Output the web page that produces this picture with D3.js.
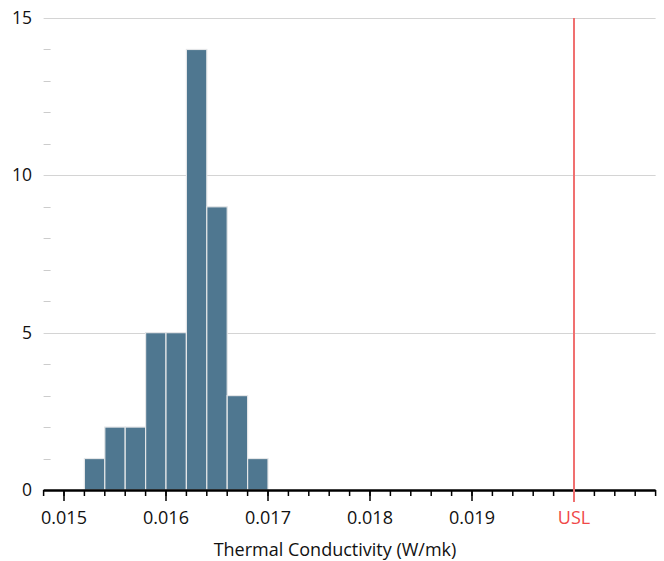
<!DOCTYPE html>
<html><head><meta charset="utf-8">
<script src="https://cdn.jsdelivr.net/npm/d3@7"></script>
<style>
html,body{margin:0;padding:0;background:#fff;}
svg{display:block;font-family:"Open Sans",sans-serif;}
</style></head>
<body><svg id="c" width="664" height="561"></svg>
<script>
const binStarts = [0.0152, 0.0154, 0.0156, 0.0158, 0.0160, 0.0162, 0.0164, 0.0166, 0.0168];
const binWidth = 0.0002;
const counts = [1, 2, 2, 5, 5, 14, 9, 3, 1];
const xTickValues = [0.015, 0.016, 0.017, 0.018, 0.019, 0.020];
const xTickLabels = ["0.015", "0.016", "0.017", "0.018", "0.019", "USL"];
const yMajorTicks = [0, 5, 10, 15];
const uslValue = 0.020;
const xLabel = "Thermal Conductivity (W/mk)";

const svg = d3.select("#c");
const x = d3.scaleLinear().domain([0.0148, 0.0208]).range([43.6, 655.6]);
const y = d3.scaleLinear().domain([0, 15]).range([490, 18]);

// minor y ticks
const yMinor = d3.range(1, 15).filter(v => v % 5 !== 0);
svg.append("g").selectAll("line").data(yMinor).join("line")
  .attr("x1", x(0.0148)).attr("x2", x(0.0148) + 7)
  .attr("y1", d => Math.round(y(d)) + 0.5).attr("y2", d => Math.round(y(d)) + 0.5)
  .attr("stroke", "#cccccc").attr("stroke-width", 1);

// gridlines
svg.append("g").selectAll("line").data(yMajorTicks.filter(d => d > 0)).join("line")
  .attr("x1", x(0.0148)).attr("x2", x(0.0208))
  .attr("y1", d => Math.round(y(d)) + 0.5).attr("y2", d => Math.round(y(d)) + 0.5)
  .attr("stroke", "#d4d4d4").attr("stroke-width", 1);

// y labels
svg.append("g").selectAll("text").data(yMajorTicks).join("text")
  .attr("x", 32).attr("y", d => y(d)).attr("dy", "0.35em")
  .attr("text-anchor", "end").attr("font-size", 17.5).attr("fill", "#111")
  .text(d => d);

// bars
svg.append("g").selectAll("rect").data(counts).join("rect")
  .attr("x", (d, i) => x(binStarts[i]))
  .attr("width", (d, i) => x(binStarts[i] + binWidth) - x(binStarts[i]))
  .attr("y", d => y(d))
  .attr("height", d => y(0) - y(d))
  .attr("fill", "#4f7790").attr("stroke", "#e4e6e8").attr("stroke-width", 1.2);

// x axis minor ticks
const xMinor = d3.range(0, 31).map(i => +(0.0148 + i * 0.0002).toFixed(5));
svg.append("g").selectAll("line").data(xMinor).join("line")
  .attr("x1", d => x(d)).attr("x2", d => x(d))
  .attr("y1", 490).attr("y2", 496)
  .attr("stroke", "#000").attr("stroke-width", 1.5);

// major ticks
svg.append("g").selectAll("line").data(xTickValues).join("line")
  .attr("x1", d => x(d)).attr("x2", d => x(d))
  .attr("y1", 490).attr("y2", 501)
  .attr("stroke", (d) => d === uslValue ? "#f07070" : "#000").attr("stroke-width", 1.5);

// axis line
svg.append("line").attr("x1", x(0.0148)).attr("x2", x(0.0208))
  .attr("y1", 490.5).attr("y2", 490.5).attr("stroke", "#000").attr("stroke-width", 2.5);

// USL line
svg.append("line").attr("x1", x(uslValue)).attr("x2", x(uslValue))
  .attr("y1", y(15)).attr("y2", 502)
  .attr("stroke", "#f07070").attr("stroke-width", 2);

// x labels
svg.append("g").selectAll("text").data(xTickValues).join("text")
  .attr("x", d => x(d)).attr("y", 518).attr("dy", "0.35em")
  .attr("text-anchor", "middle").attr("font-size", 18)
  .attr("fill", (d, i) => d === uslValue ? "#f04848" : "#111")
  .text((d, i) => xTickLabels[i]);

svg.append("text").attr("x", 335).attr("y", 550).attr("dy", "0.35em")
  .attr("text-anchor", "middle").attr("font-size", 18).attr("fill", "#111")
  .text(xLabel);
</script></body></html>
